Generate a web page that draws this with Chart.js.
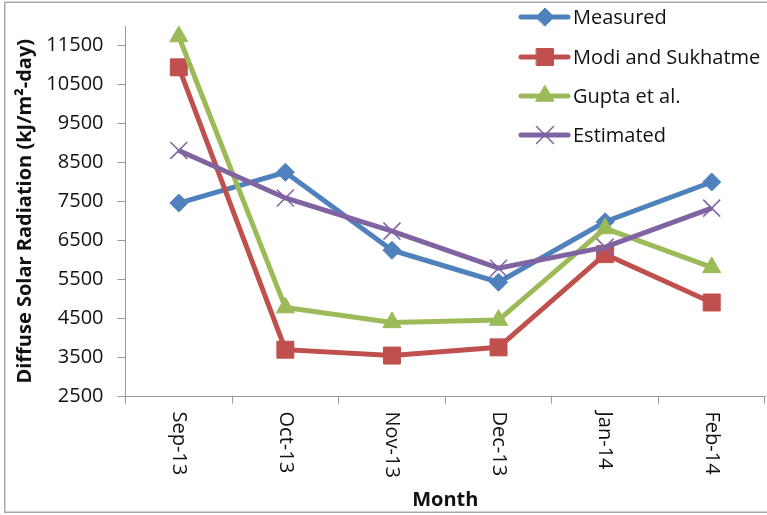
<!DOCTYPE html>
<html>
<head>
<meta charset="utf-8">
<title>Diffuse Solar Radiation</title>
<script src="https://cdn.jsdelivr.net/npm/chart.js@4.4.1/dist/chart.umd.min.js"></script>
<style>
  html, body { margin: 0; padding: 0; background: #fff; }
  #wrap { width: 767px; height: 515px; }
</style>
</head>
<body>
<div id="wrap"><canvas id="chart" width="767" height="515"></canvas></div>
<script>
// Monthly diffuse radiation, kJ/m2-day
const months = ['Sep-13', 'Oct-13', 'Nov-13', 'Dec-13', 'Jan-14', 'Feb-14'];
const measured = [7460, 8250, 6250, 5430, 6980, 8000];
const modiSukhatme = [10940, 3700, 3550, 3760, 6150, 4910];
const guptaEtAl = [11730, 4780, 4400, 4460, 6810, 5810];
const estimated = [8810, 7590, 6740, 5790, 6330, 7330];
const yTicks = [2500, 3500, 4500, 5500, 6500, 7500, 8500, 9500, 10500, 11500];
const yMin = 2500;
const yMax = 12000;

const FONT = "'Open Sans', 'Liberation Sans', sans-serif";
const AXIS_GREY = '#9a9a9a';

const series = [
    { label: 'Measured', data: measured, color: '#4f81bd', style: 'rectRot', radius: 9, order: 4 },
    { label: 'Modi and Sukhatme', data: modiSukhatme, color: '#c0504d', style: 'rect', radius: 12, order: 3 },
    { label: 'Gupta et al.', data: guptaEtAl, color: '#9bbb59', style: 'triangle', radius: 10.5, order: 2 },
    { label: 'Estimated', data: estimated, color: '#8064a2', style: 'crossRot', radius: 12, order: 1 }
];

// Outer frame, rotated month labels and the legend overlay
const decorations = {
    id: 'decorations',
    afterDraw(chart) {
        const ctx = chart.ctx;
        const x = chart.scales.x;

        ctx.save();
        ctx.strokeStyle = '#a8a8a8';
        ctx.lineWidth = 1.5;
        ctx.strokeRect(4.75, 2.25, 780, 510);

        // month labels read top to bottom
        ctx.fillStyle = '#111';
        ctx.font = '20px ' + FONT;
        ctx.textAlign = 'left';
        ctx.textBaseline = 'middle';
        months.forEach((m, i) => {
            ctx.save();
            ctx.translate(x.getPixelForValue(i), x.top + 15);
            ctx.rotate(Math.PI / 2);
            ctx.fillText(m, 0, 0);
            ctx.restore();
        });

        // legend
        const rowY = [17, 57, 96, 135];
        series.forEach((s, i) => {
            const y = rowY[i];
            ctx.strokeStyle = s.color;
            ctx.lineWidth = 5;
            ctx.lineCap = 'round';
            ctx.beginPath();
            ctx.moveTo(521, y);
            ctx.lineTo(568, y);
            ctx.stroke();
            ctx.fillStyle = s.color;
            ctx.lineWidth = s.style === 'crossRot' ? 1.5 : 1;
            Chart.helpers.drawPoint(ctx, { pointStyle: s.style, radius: s.radius, rotation: 0, borderWidth: ctx.lineWidth }, 545, y);
            ctx.fillStyle = '#111';
            ctx.font = '20px ' + FONT;
            ctx.textBaseline = 'middle';
            ctx.fillText(s.label, 573, y + 1);
        });
        ctx.restore();
    }
};

new Chart(document.getElementById('chart'), {
    type: 'line',
    data: {
        labels: months,
        datasets: series.map(s => ({
            label: s.label,
            data: s.data,
            order: s.order,
            borderColor: s.color,
            backgroundColor: s.color,
            borderWidth: 5,
            tension: 0,
            pointStyle: s.style,
            pointRadius: s.radius,
            pointHoverRadius: s.radius,
            pointBackgroundColor: s.color,
            pointBorderColor: s.color,
            pointBorderWidth: s.style === 'crossRot' ? 1.5 : 1,
            clip: false
        }))
    },
    options: {
        responsive: false,
        animation: false,
        devicePixelRatio: 1,
        layout: { autoPadding: false, padding: { left: 5, top: 22, right: 2, bottom: 3 } },
        plugins: {
            legend: { display: false },
            tooltip: { enabled: false }
        },
        scales: {
            x: {
                offset: true,
                afterFit: scale => { scale.height = 115.5; },
                grid: {
                    offset: true,
                    drawOnChartArea: false,
                    drawTicks: true,
                    tickLength: 7,
                    color: AXIS_GREY
                },
                border: { color: AXIS_GREY, width: 1 },
                ticks: { display: false },
                title: {
                    display: true,
                    text: 'Month',
                    color: '#111',
                    font: { family: FONT, size: 20, weight: 'bold' },
                    padding: { top: 0, bottom: 0 }
                }
            },
            y: {
                min: yMin,
                max: yMax,
                afterFit: scale => { scale.width = 120.5; },
                afterBuildTicks: scale => { scale.ticks = yTicks.map(v => ({ value: v })); },
                grid: {
                    drawOnChartArea: false,
                    drawTicks: true,
                    tickLength: 8,
                    color: AXIS_GREY
                },
                border: { color: AXIS_GREY, width: 1 },
                ticks: {
                    color: '#111',
                    padding: 14,
                    font: { family: FONT, size: 20 },
                    callback: v => String(v)
                },
                title: {
                    display: true,
                    text: 'Diffuse Solar Radiation (kJ/m²-day)',
                    color: '#111',
                    font: { family: FONT, size: 20, weight: 'bold' },
                    padding: { top: 8, bottom: 0 }
                }
            }
        }
    },
    plugins: [decorations]
});
</script>
</body>
</html>
